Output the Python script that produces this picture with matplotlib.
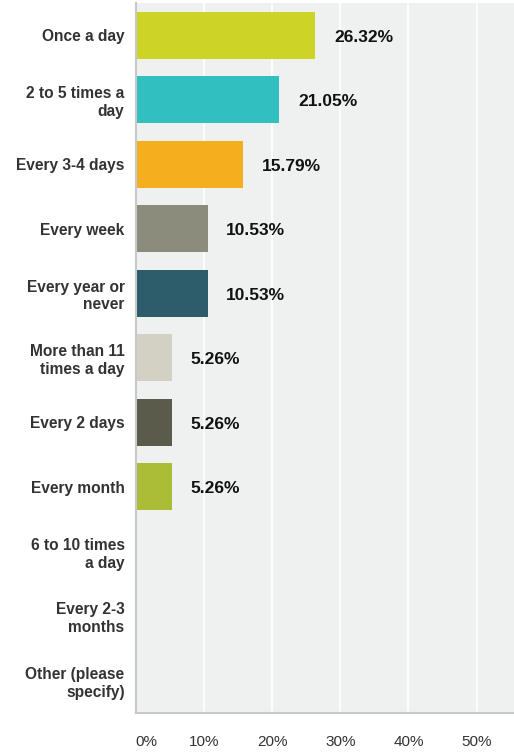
import numpy as np
import matplotlib.pyplot as plt

categories = ["Once a day", "2 to 5 times a\nday", "Every 3-4 days", "Every week",
              "Every year or\nnever", "More than 11\ntimes a day", "Every 2 days",
              "Every month", "6 to 10 times\na day", "Every 2-3\nmonths",
              "Other (please\nspecify)"]
values = [26.32, 21.05, 15.79, 10.53, 10.53, 5.26, 5.26, 5.26, 0, 0, 0]
colors = ["#cdd425", "#32bfc0", "#f5ae1e", "#8c8c7c", "#2d5c6a", "#d2d1c3",
          "#5b5b4b", "#abbd37", "#cccccc", "#cccccc", "#cccccc"]
xticks = [0, 10, 20, 30, 40, 50]

plt.rcParams['font.family'] = ['Liberation Sans', 'DejaVu Sans']

fig = plt.figure(figsize=(5.14, 7.52), dpi=100)
ax = fig.add_axes([0.264, 0.0523, 0.736, 0.9437])
ax.set_facecolor("#eff0f0")

y = np.arange(len(categories))
ax.barh(y, values, height=0.73, color=colors, zorder=3)
for yi, v in zip(y, values):
    if v > 0:
        ax.annotate(f"{v:.2f}%", (v, yi), xytext=(13.5, -1.5), textcoords="offset points",
                    ha="left", va="center", fontsize=12.5, fontweight="bold",
                    color="#111111", zorder=4)

ax.set_ylim(len(categories) - 0.5, -0.5)
ax.set_xlim(0, 55.47)
ax.set_xticks(xticks)
ax.set_xticklabels([f"{t}%" for t in xticks], fontsize=11, color="#333333")
ax.get_xticklabels()[0].set_horizontalalignment("left")
ax.set_yticks(y)
ax.set_yticklabels(categories, fontsize=11.2, fontweight="bold", color="#333333",
                   linespacing=1.22)
ax.tick_params(axis="y", length=0, pad=8)
ax.tick_params(axis="x", length=0, pad=16)
ax.grid(axis="x", color="white", linewidth=1.2, zorder=1)

for s in ["top", "right"]:
    ax.spines[s].set_visible(False)
for s in ["left", "bottom"]:
    ax.spines[s].set_color("#c8c8c8")
    ax.spines[s].set_linewidth(1.5)
    ax.spines[s].set_zorder(5)

fig.savefig("out.png", dpi=100)
